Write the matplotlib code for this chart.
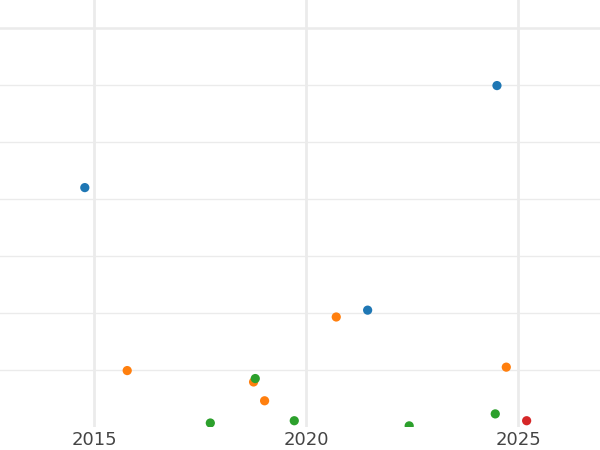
import matplotlib
matplotlib.use("Agg")
import matplotlib.pyplot as plt

# values
blue_x = [2014.78, 2024.50, 2021.45]
blue_y = [4.20, 5.99, 2.05]
orange_x = [2015.78, 2018.76, 2019.02, 2020.71, 2024.72]
orange_y = [0.99, 0.79, 0.46, 1.93, 1.05]
green_x = [2017.74, 2018.80, 2019.72, 2022.43, 2024.46]
green_y = [0.07, 0.85, 0.11, 0.02, 0.23]
red_x = [2025.20]
red_y = [0.11]

year_ticks = [2015, 2020, 2025]
major_y = [7]
minor_y = [1, 2, 3, 4, 5, 6]

fig = plt.figure(figsize=(6, 4.5), dpi=100)
ax = fig.add_axes([0, 23 / 450, 1, 1 - 23 / 450])

grid_col = "#ebebeb"
for xs, ys, c in [(blue_x, blue_y, "#1f77b4"),
                  (orange_x, orange_y, "#ff7f0e"),
                  (green_x, green_y, "#2ca02c"),
                  (red_x, red_y, "#d62728")]:
    ax.scatter(xs, ys, s=44, color=c, edgecolors="none", zorder=3)

ax.set_xlim(2012.78, 2026.93)
ax.set_ylim(0, 427 / 57)

ax.set_xticks(year_ticks)
ax.set_xticklabels([str(t) for t in year_ticks])
ax.set_yticks(major_y)
ax.set_yticks(minor_y, minor=True)
ax.set_yticklabels([])

ax.grid(axis="x", color=grid_col, linewidth=2)
ax.grid(axis="y", which="major", color=grid_col, linewidth=1.8)
ax.grid(axis="y", which="minor", color=grid_col, linewidth=1)
ax.set_axisbelow(True)

ax.tick_params(axis="x", length=0, pad=3, labelsize=13, labelcolor="#444444")
ax.tick_params(axis="y", which="both", length=0, left=False, labelleft=False)

for s in ax.spines.values():
    s.set_visible(False)

fig.savefig("out.png", dpi=100)
